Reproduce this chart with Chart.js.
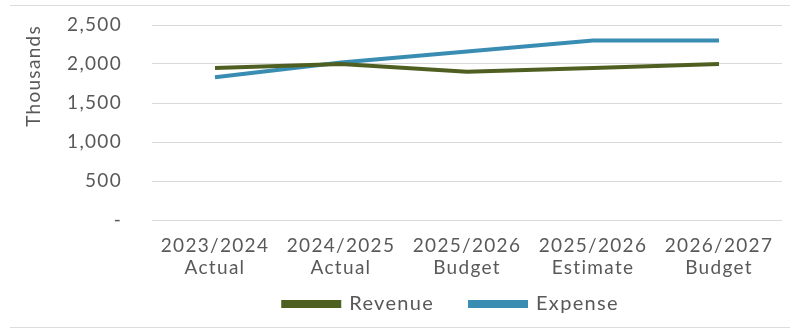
<!DOCTYPE html>
<html>
<head>
<meta charset="utf-8">
<script src="https://cdn.jsdelivr.net/npm/chart.js@4/dist/chart.umd.min.js"></script>
<style>
  html, body { margin: 0; padding: 0; background: #ffffff; }
  #wrap { width: 790px; height: 330px; position: relative; }
</style>
</head>
<body>
<div id="wrap"><canvas id="chart" width="790" height="330"></canvas></div>
<script>
// Fiscal periods shown on the x axis (two-line labels)
const periods = [
  ['2023/2024', 'Actual'],
  ['2024/2025', 'Actual'],
  ['2025/2026', 'Budget'],
  ['2025/2026', 'Estimate'],
  ['2026/2027', 'Budget']
];

// Values in thousands
const revenue = [1950, 2000, 1900, 1950, 2000];
const expense = [1830, 2020, 2160, 2300, 2300];

// Y axis tick values
const yTicks = [0, 500, 1000, 1500, 2000, 2500];

const textColor = '#595959';
const fontFamily = 'Lato, "Open Sans", sans-serif';

// Slightly wider letter spacing for all canvas text
const spacingPlugin = {
  id: 'spacing',
  beforeInit(chart) { chart.ctx.letterSpacing = '1.3px'; },
  beforeUpdate(chart) { chart.ctx.letterSpacing = '1.3px'; },
  beforeDraw(chart) { chart.ctx.letterSpacing = '1.3px'; }
};

// Place the legend row under the plot, right of the canvas centre,
// and give its box enough height so the row is not clipped
const legendPlacement = {
  id: 'legendPlacement',
  afterLayout(chart) {
    const lg = chart.legend;
    const dx = 49, top = 258;
    lg.left += dx; lg.right += dx;
    lg.top = top; lg.bottom = top + 72;
    lg.height = 72;
  }
};

// Thin frame lines across the top and bottom of the canvas
const framePlugin = {
  id: 'frame',
  beforeDraw(chart) {
    const ctx = chart.ctx;
    ctx.save();
    ctx.strokeStyle = '#dcdcdc';
    ctx.lineWidth = 1;
    ctx.beginPath();
    ctx.moveTo(10, 5.5); ctx.lineTo(790, 5.5);
    ctx.moveTo(10, 327.5); ctx.lineTo(790, 327.5);
    ctx.stroke();
    ctx.restore();
  }
};

new Chart(document.getElementById('chart'), {
  type: 'line',
  data: {
    labels: periods,
    datasets: [
      {
        label: 'Revenue',
        data: revenue,
        borderColor: '#4f5f22',
        backgroundColor: '#4f5f22',
        borderWidth: 4,
        pointRadius: 0,
        tension: 0
      },
      {
        label: 'Expense',
        data: expense,
        borderColor: '#3a8db2',
        backgroundColor: '#3a8db2',
        borderWidth: 4,
        pointRadius: 0,
        tension: 0
      }
    ]
  },
  options: {
    responsive: false,
    animation: false,
    layout: { padding: { left: 22, right: 8, top: 0, bottom: 0 } },
    plugins: {
      legend: {
        position: 'bottom',
        maxHeight: 40,
        labels: {
          color: textColor,
          font: { family: fontFamily, size: 20 },
          boxWidth: 56,
          boxHeight: 4,
          padding: 36
        }
      },
      tooltip: { enabled: false }
    },
    scales: {
      x: {
        offset: true,
        grid: { display: false, drawTicks: false },
        border: { display: false },
        ticks: {
          color: textColor,
          font: { family: fontFamily, size: 19, lineHeight: 1.2 },
          padding: 14,
          maxRotation: 0
        },
        afterFit(scale) { scale.height = 70; }
      },
      y: {
        min: 0,
        max: 2500,
        afterBuildTicks(axis) {
          axis.ticks = yTicks.map(v => ({ value: v }));
        },
        afterFit(scale) {
          scale.width = 130;
          scale.paddingTop = 25;
          scale.paddingBottom = 0;
        },
        grid: { color: '#d9d9d9', drawTicks: false },
        border: { display: false },
        ticks: {
          color: textColor,
          font: { family: fontFamily, size: 19 },
          padding: 30,
          callback: v => v === 0 ? '-' : v.toLocaleString('en-US')
        },
        title: {
          display: true,
          text: 'Thousands',
          align: 'end',
          color: textColor,
          font: { family: fontFamily, size: 19 },
          padding: 0
        }
      }
    }
  },
  plugins: [spacingPlugin, legendPlacement, framePlugin]
});
</script>
</body>
</html>
